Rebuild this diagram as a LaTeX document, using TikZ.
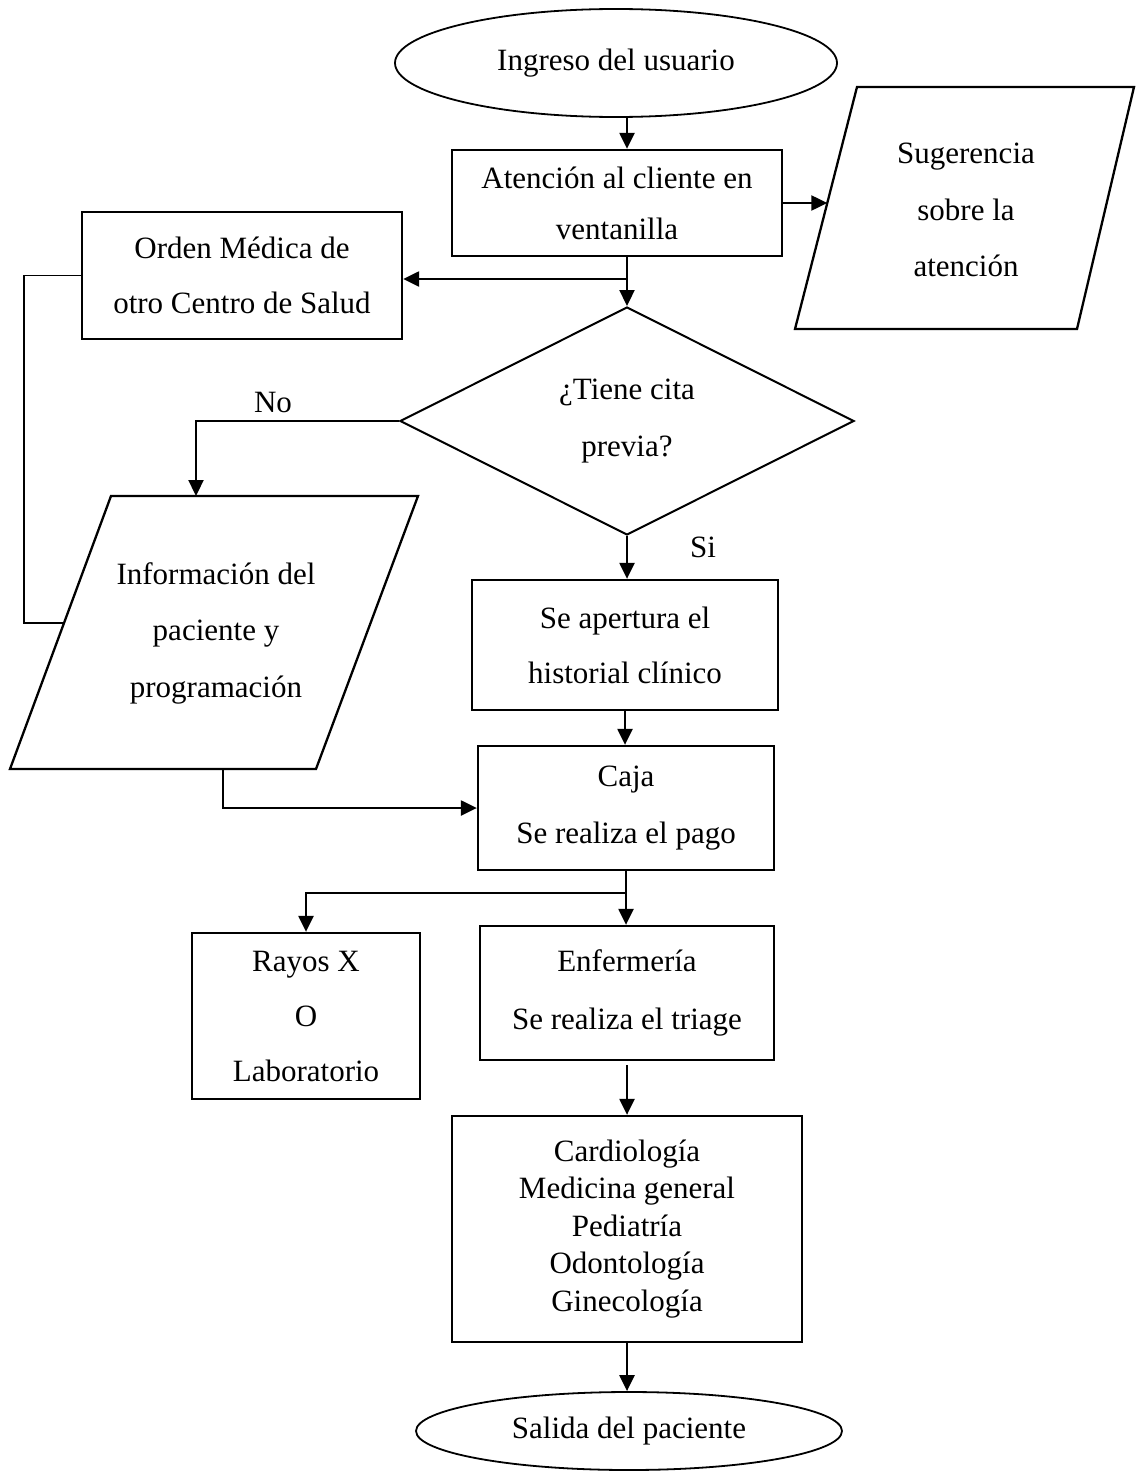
\documentclass[tikz,border=0pt]{standalone}
\usepackage{fontspec}
\setmainfont{Liberation Serif}
\usetikzlibrary{arrows.meta,shapes.geometric}
\begin{document}
\begin{tikzpicture}[x=1pt,y=-1pt,
  every node/.style={font=\fontsize{31}{55}\selectfont},
  box/.style={draw,line width=2.3pt,rectangle,inner sep=0pt,align=center},
  oval/.style={draw,ellipse,line width=1.8pt,inner sep=0pt},
  line/.style={line width=2.3pt},
  thinline/.style={line width=1.8pt},
  arr/.style={line width=2.3pt,-{Triangle[length=16pt,width=15pt]}}]
\useasboundingbox (0,0) rectangle (1136,1472);

% nodes
\node[oval,minimum width=442pt,minimum height=108pt] (ing) at (616,63) {Ingreso del usuario};
\node[box,minimum width=330pt,minimum height=106pt,font=\fontsize{31}{51}\selectfont] (aten) at (617,203) {Atención al cliente en\\ventanilla};

\coordinate (s1) at (857,87);
\coordinate (s2) at (1134,87);
\coordinate (s3) at (1077,329);
\coordinate (s4) at (795,329);
\draw[line] (s1) -- (s2) -- (s3) -- (s4) -- cycle;
\node[align=center,font=\fontsize{31}{56.5}\selectfont] (sug) at (966,210) {Sugerencia\\sobre la\\atención};
\coordinate (sugL) at (827.3,203);

\node[box,minimum width=320pt,minimum height=127pt] (orden) at (242,275.5) {Orden Médica de\\otro Centro de Salud};

\node[draw,diamond,aspect=2,line width=2pt,minimum width=454pt,minimum height=228pt,inner sep=0pt,align=center,font=\fontsize{31}{57}\selectfont] (dec) at (627,421) {¿Tiene cita\\previa?};

\coordinate (i1) at (111,496);
\coordinate (i2) at (418,496);
\coordinate (i3) at (316,769);
\coordinate (i4) at (10,769);
\draw[line] (i1) -- (i2) -- (i3) -- (i4) -- cycle;
\node[align=center,font=\fontsize{31}{56.5}\selectfont] (info) at (216,633) {Información del\\paciente y\\programación};
\coordinate (infoT) at (196,496);
\coordinate (infoL) at (64,623);
\coordinate (infoB) at (223,769);

\node[box,minimum width=306pt,minimum height=130pt] (apt) at (625,645) {Se apertura el\\historial clínico};
\node[box,minimum width=296pt,minimum height=124pt,font=\fontsize{31}{57}\selectfont] (caja) at (626,808) {Caja\\Se realiza el pago};
\node[box,minimum width=228pt,minimum height=166pt] (rayos) at (306,1016) {Rayos X\\O\\Laboratorio};
\node[box,minimum width=294pt,minimum height=134pt,font=\fontsize{31}{58}\selectfont] (enf) at (627,993) {Enfermería\\Se realiza el triage};
\node[box,minimum width=350pt,minimum height=226pt,font=\fontsize{31}{37.5}\selectfont] (card) at (627,1229) {Cardiología\\Medicina general\\Pediatría\\Odontología\\Ginecología};
\node[oval,minimum width=426pt,minimum height=78pt] (sal) at (629,1431) {Salida del paciente};

\node (no) at (273,402) {No};
\node (si) at (703,547) {Si};

% connectors
\coordinate (mx) at (627,0);
\coordinate (lx) at (24,0);
\coordinate (br1) at (627,279);
\draw[arr] (ing.south -| mx) -- (aten.north -| mx);
\draw[arr] (aten.east) -- (sugL);
\draw[arr] (aten.south -| mx) -- (dec.north);
\draw[arr] (br1) -- (br1 -| orden.east);
\draw[thinline] (orden.west) -| (lx |- infoL) -- (infoL);
\draw[arr] (dec.west) -| (infoT);
\draw[arr] (dec.south) -- (dec.south |- apt.north);
\draw[arr] (apt.south) -- (apt.south |- caja.north);
\draw[arr] (infoB) |- (caja.west);
\draw[arr] (caja.south) -- (caja.south |- enf.north);
\draw[arr] (caja.south) -- ++(0,22) -| (rayos.north);
\draw[arr] ([yshift=-4pt]enf.south) -- (enf.south |- card.north);
\draw[arr] (card.south) -- (card.south |- sal.north);
\end{tikzpicture}
\end{document}
